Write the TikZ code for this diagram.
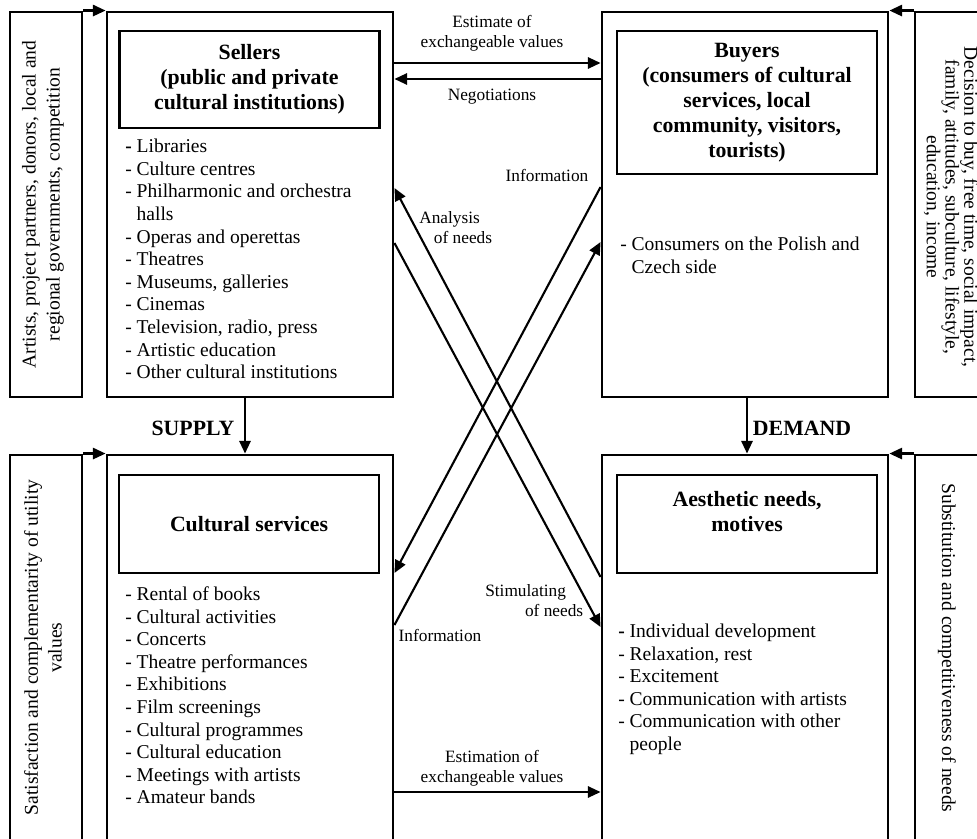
\documentclass[tikz,border=0pt]{standalone}
\usepackage{fontspec}
\setmainfont{Liberation Serif}
\usetikzlibrary{arrows.meta}
\newcommand\lstfont{\fontsize{13.9pt}{16.1pt}\selectfont}
\newcommand\hdfont{\fontsize{15.5pt}{17.8pt}\selectfont\bfseries}
\newcommand\lblfont{\fontsize{12.3pt}{14.2pt}\selectfont}
\newcommand\sidefont{\fontsize{13.9pt}{17pt}\selectfont}
\newcommand\sidefontb{\fontsize{13.9pt}{13.4pt}\selectfont}

\begin{document}
\begin{tikzpicture}[x=0.025cm, y=-0.025cm,
        bigbox/.style={draw, line width=2pt, minimum width=7.15cm, minimum height=9.625cm, inner sep=0pt},
        sidebox/.style={draw, line width=2pt, minimum width=1.8cm, minimum height=9.625cm, inner sep=0pt},
        hdbox/.style={draw, line width=2pt, align=center, font=\hdfont, inner sep=0pt, minimum width=6.5cm},
        item/.style={anchor=base west, inner sep=0pt, font=\lstfont},
        lbl/.style={align=center, inner sep=0pt, font=\lblfont},
        sidetxt/.style={align=center, inner sep=0pt, font=\sidefont},
        arr/.style={line width=1.5pt, -{Triangle[length=9pt,width=8pt]}}]
        \clip (0,0) rectangle (977,839);

        \node[sidebox] (artsbox) at (46,204.5) {};
        \node[sidebox] (decbox) at (951,204.5) {};
        \node[sidebox] (satbox) at (46,647.5) {};
        \node[sidebox] (subbox) at (951,647.5) {};

        \node[bigbox] (sellers) at (250,204.5) {};
        \node[bigbox] (buyers) at (745,204.5) {};
        \node[bigbox] (services) at (250,647.5) {};
        \node[bigbox] (needs) at (745,647.5) {};

        \node[hdbox, minimum height=2.425cm] (sellershd) at (249.5,79.5) {Sellers\\(public and private\\cultural institutions)};
        \node[hdbox, minimum height=3.575cm] (buyershd) at (747,102.5) {Buyers\\(consumers of cultural\\services, local\\community, visitors,\\tourists)};
        \node[hdbox, minimum height=2.45cm] (serviceshd) at (249,524) {Cultural services};
        \node[hdbox, minimum height=2.45cm] (needshd) at (747,524) {Aesthetic needs,\\motives\\\mbox{}};

        \foreach \txt [count=\i from 0] in {\textbf{-} Libraries, - Culture centres, - Philharmonic and orchestra,
                \hphantom{- }halls, - Operas and operettas, - Theatres, {- Museums, galleries}, - Cinemas,
                {- Television, radio, press}, - Artistic education, - Other cultural institutions}
                \node[item] (sl\i) at (125,152.7+22.6*\i) {\txt};
        \foreach \txt [count=\i from 0] in {- Consumers on the Polish and, \hphantom{- }Czech side}
                \node[item] (bl\i) at (620,250.5+22.6*\i) {\txt};
        \foreach \txt [count=\i from 0] in {- Rental of books, - Cultural activities, - Concerts, - Theatre performances,
                - Exhibitions, - Film screenings, - Cultural programmes, - Cultural education,
                - Meetings with artists, - Amateur bands}
                \node[item] (cl\i) at (125,600.5+22.6*\i) {\txt};
        \foreach \txt [count=\i from 0] in {\textbf{-} Individual development, {- Relaxation, rest}, - Excitement,
                - Communication with artists, - Communication with other, \hphantom{- }people}
                \node[item] (nl\i) at (618,637.5+22.6*\i) {\txt};

        \node[sidetxt, rotate=90] (artstxt) at (43,204.5) {Artists, project partners, donors, local and\\regional governments, competition};
        \node[sidetxt, rotate=-90, font=\sidefontb] (dectxt) at (951,207) {Decision to buy, free time, social impact,\\family, attitudes, subculture, lifestyle,\\education, income};
        \node[sidetxt, rotate=90] (sattxt) at (43,647.5) {Satisfaction and complementarity of utility\\values};
        \node[sidetxt, rotate=-90] (subtxt) at (947,648) {Substitution and competitiveness of needs};

        \node[lbl] (estlbl) at (492,33) {Estimate of\\exchangeable values};
        \node[lbl] (neglbl) at (492,97) {Negotiations};
        \node[lbl] (infolbl) at (547,175) {Information};
        \node[lbl, align=left, anchor=west] (analbl) at (419,228) {Analysis\\\hspace*{0.85em}of needs};
        \node[lbl, align=left, anchor=west] (stimlbl) at (485,601) {Stimulating\\\hspace*{2.3em}of needs};
        \node[lbl] (infolblb) at (440,635) {Information};
        \node[lbl] (estnlbl) at (492,768) {Estimation of\\exchangeable values};
        \node[font=\hdfont, inner sep=0pt] (supply) at (193,428) {SUPPLY};
        \node[font=\hdfont, inner sep=0pt] (demand) at (802,428) {DEMAND};

        \draw[arr] (artsbox.north east) -- (sellers.north west);
        \draw[arr] (decbox.north west) -- (buyers.north east);
        \draw[arr] (satbox.north east) -- (services.north west);
        \draw[arr] (subbox.north west) -- (needs.north east);

        \draw[arr] (sellers.east |- 0,63) -- (buyers.west |- 0,63);
        \draw[arr] (buyers.west |- 0,79) -- (sellers.east |- 0,79);
        \draw[arr] (buyers.west |- 0,187) -- (services.east |- 0,573);
        \draw[arr] (services.east |- 0,625) -- (buyers.west |- 0,242);
        \draw[arr] (needs.west |- 0,577) -- (sellers.east |- 0,188);
        \draw[arr] (sellers.east |- 0,243) -- (needs.west |- 0,627);
        \draw[arr] (services.east |- 0,792) -- (needs.west |- 0,792);

        \draw[arr] (sellers.south -| 245,0) -- (services.north -| 245,0);
        \draw[arr] (buyers.south -| 747,0) -- (needs.north -| 747,0);
\end{tikzpicture}
\end{document}
